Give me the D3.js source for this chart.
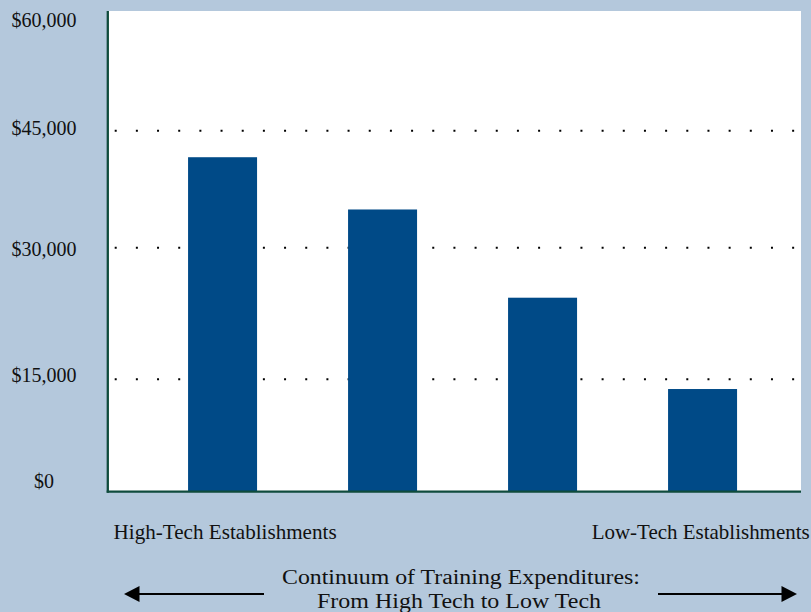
<!DOCTYPE html>
<html><head><meta charset="utf-8">
<script src="https://cdn.jsdelivr.net/npm/d3@7"></script>
<style>html,body{margin:0;padding:0;background:#b4c8dc;} svg{display:block;}</style>
</head><body><svg id="chart" width="811" height="612"></svg>
<script>
// ---- data ----
const categories = ["Tier 1", "Tier 2", "Tier 3", "Tier 4"];
const expenditures = [41600, 34900, 24300, 13700];
const tickValues = [0, 15000, 30000, 45000, 60000];
const tickLabels = ["$0", "$15,000", "$30,000", "$45,000", "$60,000"];
const gridValues = [15000, 30000, 45000];
const endLabels = ["High-Tech Establishments", "Low-Tech Establishments"];
const titleLines = ["Continuum of Training Expenditures:", "From High Tech to Low Tech"];

// ---- layout ----
const W = 811, H = 612;
const plot = {left: 108, right: 801, top: 11, bottom: 491.5};
const bg = "#b4c8dc", barColor = "#004a87", axisColor = "#0f4b3c";
const font = "'Liberation Serif','Times New Roman',serif";

const svg = d3.select("#chart");
svg.append("rect").attr("width", W).attr("height", H).attr("fill", bg);

// y scale follows the (unevenly spaced) gridlines of the original
const y = d3.scaleLinear().domain(tickValues)
  .range([plot.bottom, 379.3, 247.7, 130.7, plot.top]);
const yLabel = d3.scaleLinear().domain(tickValues)
  .range([488, 381.7, 256, 135, 27]);
const x = d3.scaleBand().domain(categories).range([plot.left, plot.right])
  .paddingInner(0.56875).paddingOuter(0.45).align(0.556);

// plot background
svg.append("rect").attr("x", plot.left).attr("y", plot.top)
  .attr("width", plot.right - plot.left).attr("height", plot.bottom - plot.top)
  .attr("fill", "#ffffff");

// dotted gridlines
svg.append("g").selectAll("line").data(gridValues).join("line")
  .attr("x1", plot.left + 6.7).attr("x2", plot.right - 4)
  .attr("y1", d => y(d)).attr("y2", d => y(d))
  .attr("stroke", "#000").attr("stroke-width", 2)
  .attr("stroke-dasharray", "2 19.17");

// bars
svg.append("g").selectAll("rect").data(expenditures).join("rect")
  .attr("x", (d, i) => x(categories[i]))
  .attr("width", x.bandwidth())
  .attr("y", d => y(d))
  .attr("height", d => y(0) - y(d))
  .attr("fill", barColor);

// axes lines
svg.append("line").attr("x1", plot.left - 0.2).attr("x2", plot.left - 0.2)
  .attr("y1", plot.top).attr("y2", plot.bottom + 1.2)
  .attr("stroke", axisColor).attr("stroke-width", 2.3);
svg.append("line").attr("x1", plot.left - 1.3).attr("x2", plot.right)
  .attr("y1", plot.bottom + 0.2).attr("y2", plot.bottom + 0.2)
  .attr("stroke", axisColor).attr("stroke-width", 2.3);

// y tick labels
svg.append("g").selectAll("text").data(tickValues).join("text")
  .attr("x", 44).attr("y", d => yLabel(d))
  .attr("text-anchor", "middle")
  .attr("font-family", font).attr("font-size", 20).attr("fill", "#111")
  .text((d, i) => tickLabels[i]);

// end labels
svg.append("text").attr("x", 113.6).attr("y", 539)
  .attr("font-family", font).attr("font-size", 21).attr("fill", "#111")
  .attr("textLength", 223).attr("lengthAdjust", "spacingAndGlyphs")
  .text(endLabels[0]);
svg.append("text").attr("x", 591.7).attr("y", 539)
  .attr("font-family", font).attr("font-size", 21).attr("fill", "#111")
  .attr("textLength", 218).attr("lengthAdjust", "spacingAndGlyphs")
  .text(endLabels[1]);

// continuum title
const titleY = [583.5, 607.5], titleLen = [358, 284], titleX = [461, 459];
svg.append("g").selectAll("text").data(titleLines).join("text")
  .attr("x", (d, i) => titleX[i]).attr("y", (d, i) => titleY[i])
  .attr("text-anchor", "middle")
  .attr("font-family", font).attr("font-size", 20).attr("fill", "#111")
  .attr("textLength", (d, i) => titleLen[i]).attr("lengthAdjust", "spacingAndGlyphs")
  .text(d => d);

// arrows
const ay = 594;
const arrows = svg.append("g").attr("fill", "#000").attr("stroke", "#000");
arrows.append("line").attr("x1", 139).attr("x2", 264).attr("y1", ay).attr("y2", ay).attr("stroke-width", 2);
arrows.append("path").attr("stroke", "none")
  .attr("d", `M124,${ay} L139.5,${ay - 8} L139.5,${ay + 8} Z`);
arrows.append("line").attr("x1", 658).attr("x2", 783).attr("y1", ay).attr("y2", ay).attr("stroke-width", 2);
arrows.append("path").attr("stroke", "none")
  .attr("d", `M797,${ay} L781.5,${ay - 8} L781.5,${ay + 8} Z`);
</script></body></html>
